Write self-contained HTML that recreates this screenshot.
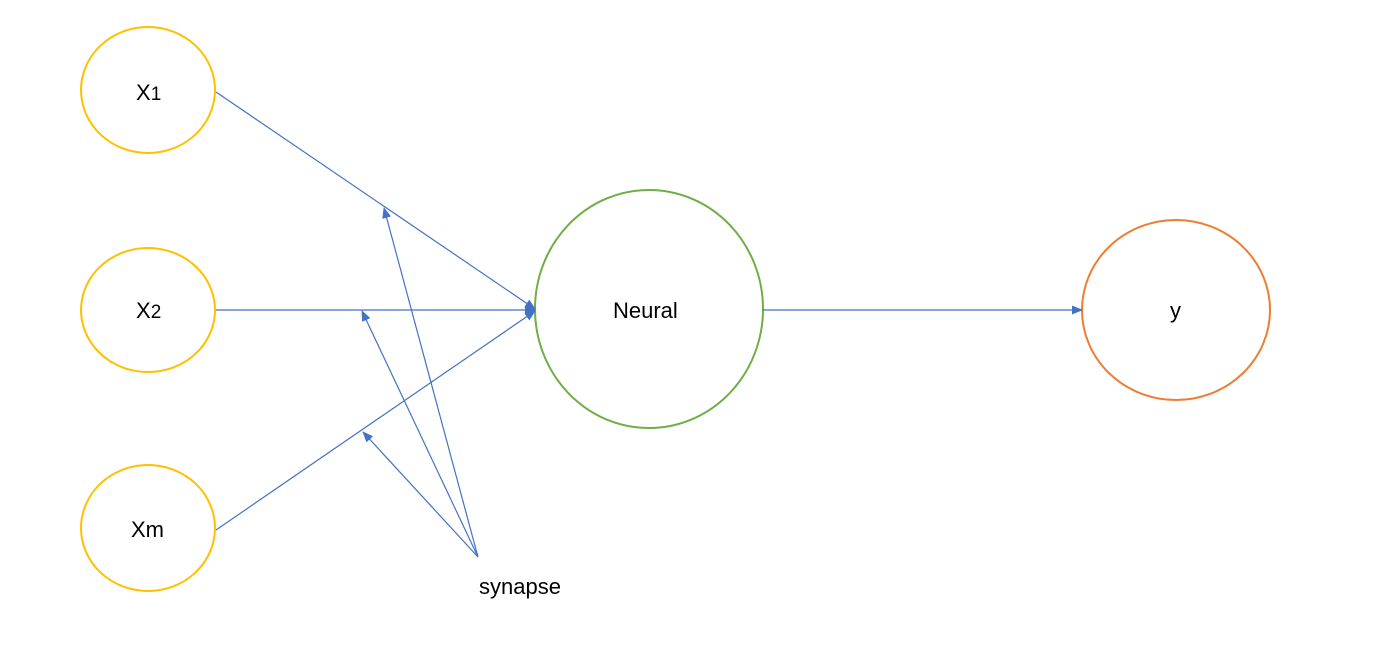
<!DOCTYPE html>
<html><head><style>body{margin:0;background:#fff}</style></head><body>
<svg width="1380" height="665" xmlns="http://www.w3.org/2000/svg" style="display:block">
<defs><marker id="a" markerWidth="11" markerHeight="10" refX="10" refY="5" orient="auto" markerUnits="userSpaceOnUse"><path d="M0,0.5 L11,5 L0,9.5 Z" fill="#4472C4"/></marker></defs>
<g fill="none" stroke-width="2">
<ellipse cx="148" cy="90" rx="67" ry="63" stroke="#FFC000"/>
<ellipse cx="148" cy="310" rx="67" ry="62" stroke="#FFC000"/>
<ellipse cx="148" cy="528" rx="67" ry="63" stroke="#FFC000"/>
<ellipse cx="649" cy="309" rx="114" ry="119" stroke="#70AD47"/>
<ellipse cx="1176" cy="310" rx="94" ry="90" stroke="#ED7D31"/>
</g>
<g stroke="#4472C4" stroke-width="1.2" fill="none" marker-end="url(#a)">
<line x1="216" y1="92" x2="535" y2="309"/>
<line x1="216" y1="310" x2="535" y2="310"/>
<line x1="216" y1="530" x2="535" y2="311"/>
<line x1="763" y1="310" x2="1082" y2="310"/>
<line x1="478" y1="557" x2="384" y2="208"/>
<line x1="478" y1="557" x2="362" y2="311"/>
<line x1="478" y1="557" x2="363" y2="432"/>
</g>
<g font-family="Liberation Sans, sans-serif" font-size="22" fill="#000">
<text x="136" y="100">X<tspan font-size="19">1</tspan></text>
<text x="136" y="318">X<tspan font-size="19">2</tspan></text>
<text x="131" y="537">Xm</text>
<text x="613" y="318">Neural</text>
<text x="1170" y="318">y</text>
<text x="479" y="594">synapse</text>
</g>
</svg>
</body></html>
